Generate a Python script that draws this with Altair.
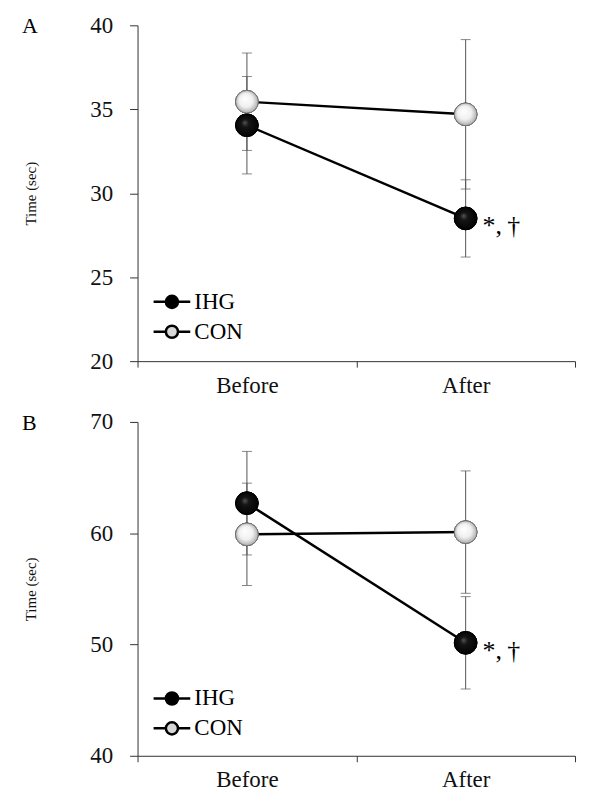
import altair as alt
import pandas as pd

# valeurs (moyenne +/- ET)
phases = ['Before', 'After']
groups = ['IHG', 'CON']

a_ihg_mean = [34.05, 28.5]
a_ihg_sd = [2.9, 2.3]
a_con_mean = [35.45, 34.7]
a_con_sd = [2.9, 4.45]

b_ihg_mean = [62.7, 50.15]
b_ihg_sd = [4.65, 4.15]
b_con_mean = [59.9, 60.1]
b_con_sd = [4.6, 5.5]

ihg_notes = ['', '*,\u2009\u2020']

a_ticks = [20, 25, 30, 35, 40]
b_ticks = [40, 50, 60, 70]

FONT = 'Liberation Serif'

gradNoir = {"gradient": "radial", "x1": 0.4, "y1": 0.38, "r1": 0.0,
            "x2": 0.5, "y2": 0.5, "r2": 0.55,
            "stops": [{"offset": 0, "color": "#555555"}, {"offset": 0.3, "color": "#151515"},
                      {"offset": 1, "color": "#000000"}]}
gradBlanc = {"gradient": "radial", "x1": 0.4, "y1": 0.35, "r1": 0.0,
             "x2": 0.5, "y2": 0.5, "r2": 0.55,
             "stops": [{"offset": 0, "color": "#ffffff"}, {"offset": 0.55, "color": "#f0f0f0"},
                       {"offset": 1, "color": "#a0a0a0"}]}

# symbole de legende : trait + rond
legendPath = ("M-1.15,0L-0.38,0M0.38,0L1.15,0"
              "M-0.38,0A0.38,0.38,0,1,1,0.38,0A0.38,0.38,0,1,1,-0.38,0Z")


def makeDf(ihgMean, ihgSd, conMean, conSd):
    rows = []
    for i, ph in enumerate(phases):
        rows.append(dict(phase=ph, group='IHG', mean=ihgMean[i],
                         lo=ihgMean[i] - ihgSd[i], hi=ihgMean[i] + ihgSd[i], note=ihg_notes[i]))
        rows.append(dict(phase=ph, group='CON', mean=conMean[i],
                         lo=conMean[i] - conSd[i], hi=conMean[i] + conSd[i], note=''))
    return pd.DataFrame(rows)


def panel(df, letter, domain, ticks, height):
    """
    un panneau : barres d'erreur, lignes, points et legende
    """
    x = alt.X('phase:N', sort=phases, bandPosition=0.5,
              scale=alt.Scale(type='band', paddingInner=0, paddingOuter=0),
              axis=alt.Axis(title=None, labelAngle=0, tickBand='extent', tickSize=6, labelPadding=7))
    yAxis = alt.Axis(values=ticks, title='Time (sec)', tickSize=8, labelPadding=17, titlePadding=51)
    base = alt.Chart(df).encode(x=x)

    err = base.mark_rule(color='#555555', strokeWidth=1).encode(
        y=alt.Y('lo:Q', scale=alt.Scale(domain=domain), axis=yAxis), y2='hi:Q')
    errLo = base.mark_tick(color='#555555', size=10, thickness=1).encode(y='lo:Q')
    errHi = base.mark_tick(color='#555555', size=10, thickness=1).encode(y='hi:Q')

    lines = base.mark_line(color='black', strokeWidth=2.5).encode(y='mean:Q', detail='group:N')

    pts = base.mark_point(shape='circle', filled=True, size=520, stroke='black', strokeWidth=1,
                          opacity=1).encode(
        y='mean:Q',
        fill=alt.Fill('group:N', scale=alt.Scale(domain=groups, range=['black', '#d8d8d8']),
                      legend=alt.Legend(title=None, orient='none', legendX=17, legendY=260,
                                        symbolType=legendPath, symbolSize=1024,
                                        symbolStrokeColor='black', symbolStrokeWidth=2.5,
                                        labelFont=FONT, labelFontSize=23, labelColor='black',
                                        labelOffset=5, rowPadding=0)))
    ptsIhg = base.mark_point(shape='circle', filled=True, size=520, fill=gradNoir, stroke='black',
                             strokeWidth=1, opacity=1).encode(y='mean:Q').transform_filter(
        alt.datum.group == 'IHG')
    ptsCon = base.mark_point(shape='circle', filled=True, size=520, fill=gradBlanc, stroke='#777777',
                             strokeWidth=1, opacity=1).encode(y='mean:Q').transform_filter(
        alt.datum.group == 'CON')

    notes = base.mark_text(align='left', baseline='alphabetic', dx=17, dy=16, fontSize=26,
                           font=FONT, color='black').encode(
        y='mean:Q', text='note:N').transform_filter(alt.datum.note != '')

    return alt.layer(err, errLo, errHi, lines, pts, ptsIhg, ptsCon, notes).properties(
        width=439, height=height,
        title=alt.TitleParams(letter, anchor='start', frame='group', dx=-116, offset=-24,
                              fontSize=22, font=FONT, fontWeight='normal', color='black'))


chartA = panel(makeDf(a_ihg_mean, a_ihg_sd, a_con_mean, a_con_sd), 'A', [20, 40], a_ticks, 337)
chartB = panel(makeDf(b_ihg_mean, b_ihg_sd, b_con_mean, b_con_sd), 'B', [40, 70], b_ticks, 335)

chart = alt.vconcat(chartA, chartB, spacing=14).resolve_scale(y='independent', fill='independent') \
    .resolve_legend(fill='independent').properties(
        padding={'left': 14, 'top': 5, 'right': 5, 'bottom': 5}
    ).configure_view(stroke=None).configure_axis(
        labelFont=FONT, labelFontSize=23, labelColor='#111111', domainColor='#333333',
        tickColor='#333333', titleFont=FONT, titleFontSize=15, titleFontWeight='normal',
        titleColor='#111111', grid=False)

chart.save("out.html", embed_options={"renderer": "svg", "actions": False})
